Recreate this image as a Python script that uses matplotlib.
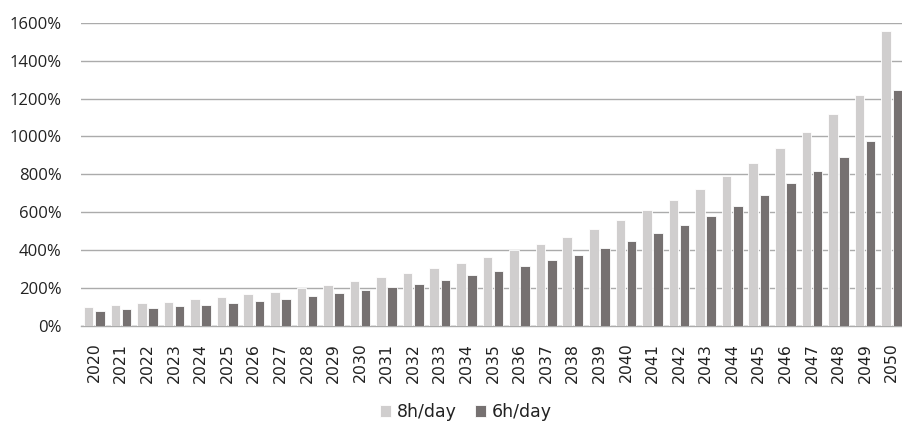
import numpy as np
import matplotlib
matplotlib.use("Agg")
import matplotlib.pyplot as plt
from matplotlib.ticker import PercentFormatter

years = [str(y) for y in range(2020, 2051)]
# growth in % relative to base
day8h = [100, 109, 120, 128, 141, 155, 167, 181, 199, 215, 236, 257, 280, 304, 332,
         362, 399, 432, 469, 513, 559, 610, 665, 724, 791, 861, 939, 1023, 1117, 1217, 1556]
day6h = [79, 88, 95, 105, 112, 123, 133, 144, 158, 172, 188, 206, 223, 243, 267,
         290, 316, 346, 376, 410, 448, 489, 531, 580, 631, 689, 753, 818, 893, 974, 1245]

light = "#D0CECE"
dark = "#767171"
grid = "#ABABAB"

fig = plt.figure(figsize=(9.02, 4.22), dpi=100)
ax = fig.add_axes([81 / 902, 1 - 326 / 422, 824 / 902, 303.3 / 422])

x = np.arange(len(years))
ax.bar(x - 0.21, day8h, width=0.36, color=light, edgecolor="white", linewidth=0.6,
       label="8h/day", zorder=3)
ax.bar(x + 0.21, day6h, width=0.36, color=dark, edgecolor="white", linewidth=0.6,
       label="6h/day", zorder=3)

ax.set_xlim(-0.5, len(years) - 0.5)
ax.set_ylim(0, 1600)
ax.set_yticks(np.arange(0, 1601, 200))
ax.yaxis.set_major_formatter(PercentFormatter(decimals=0))
ax.grid(axis="y", color=grid, linewidth=1, zorder=0)
ax.set_axisbelow(True)

ax.set_xticks(x)
ax.set_xticklabels(years, rotation=90, fontsize=11.3, family="DejaVu Sans", color="#222222")
for lab in ax.get_yticklabels():
    lab.set_family("Open Sans")
    lab.set_fontsize(12)
    lab.set_color("#222222")
ax.tick_params(axis="both", length=0)
ax.tick_params(axis="x", pad=12)
ax.tick_params(axis="y", pad=14)

for s in ["top", "right", "left"]:
    ax.spines[s].set_visible(False)
ax.spines["bottom"].set_color(grid)
ax.spines["bottom"].set_linewidth(1)

fig.legend(loc="center", bbox_to_anchor=(466 / 902, 1 - 412 / 422), ncol=2, frameon=False,
           prop={"family": "DejaVu Sans", "size": 12.5}, handlelength=0.63, handleheight=0.63,
           handletextpad=0.3, columnspacing=1.1, labelcolor="#222222")

fig.savefig("out.png", dpi=100)
